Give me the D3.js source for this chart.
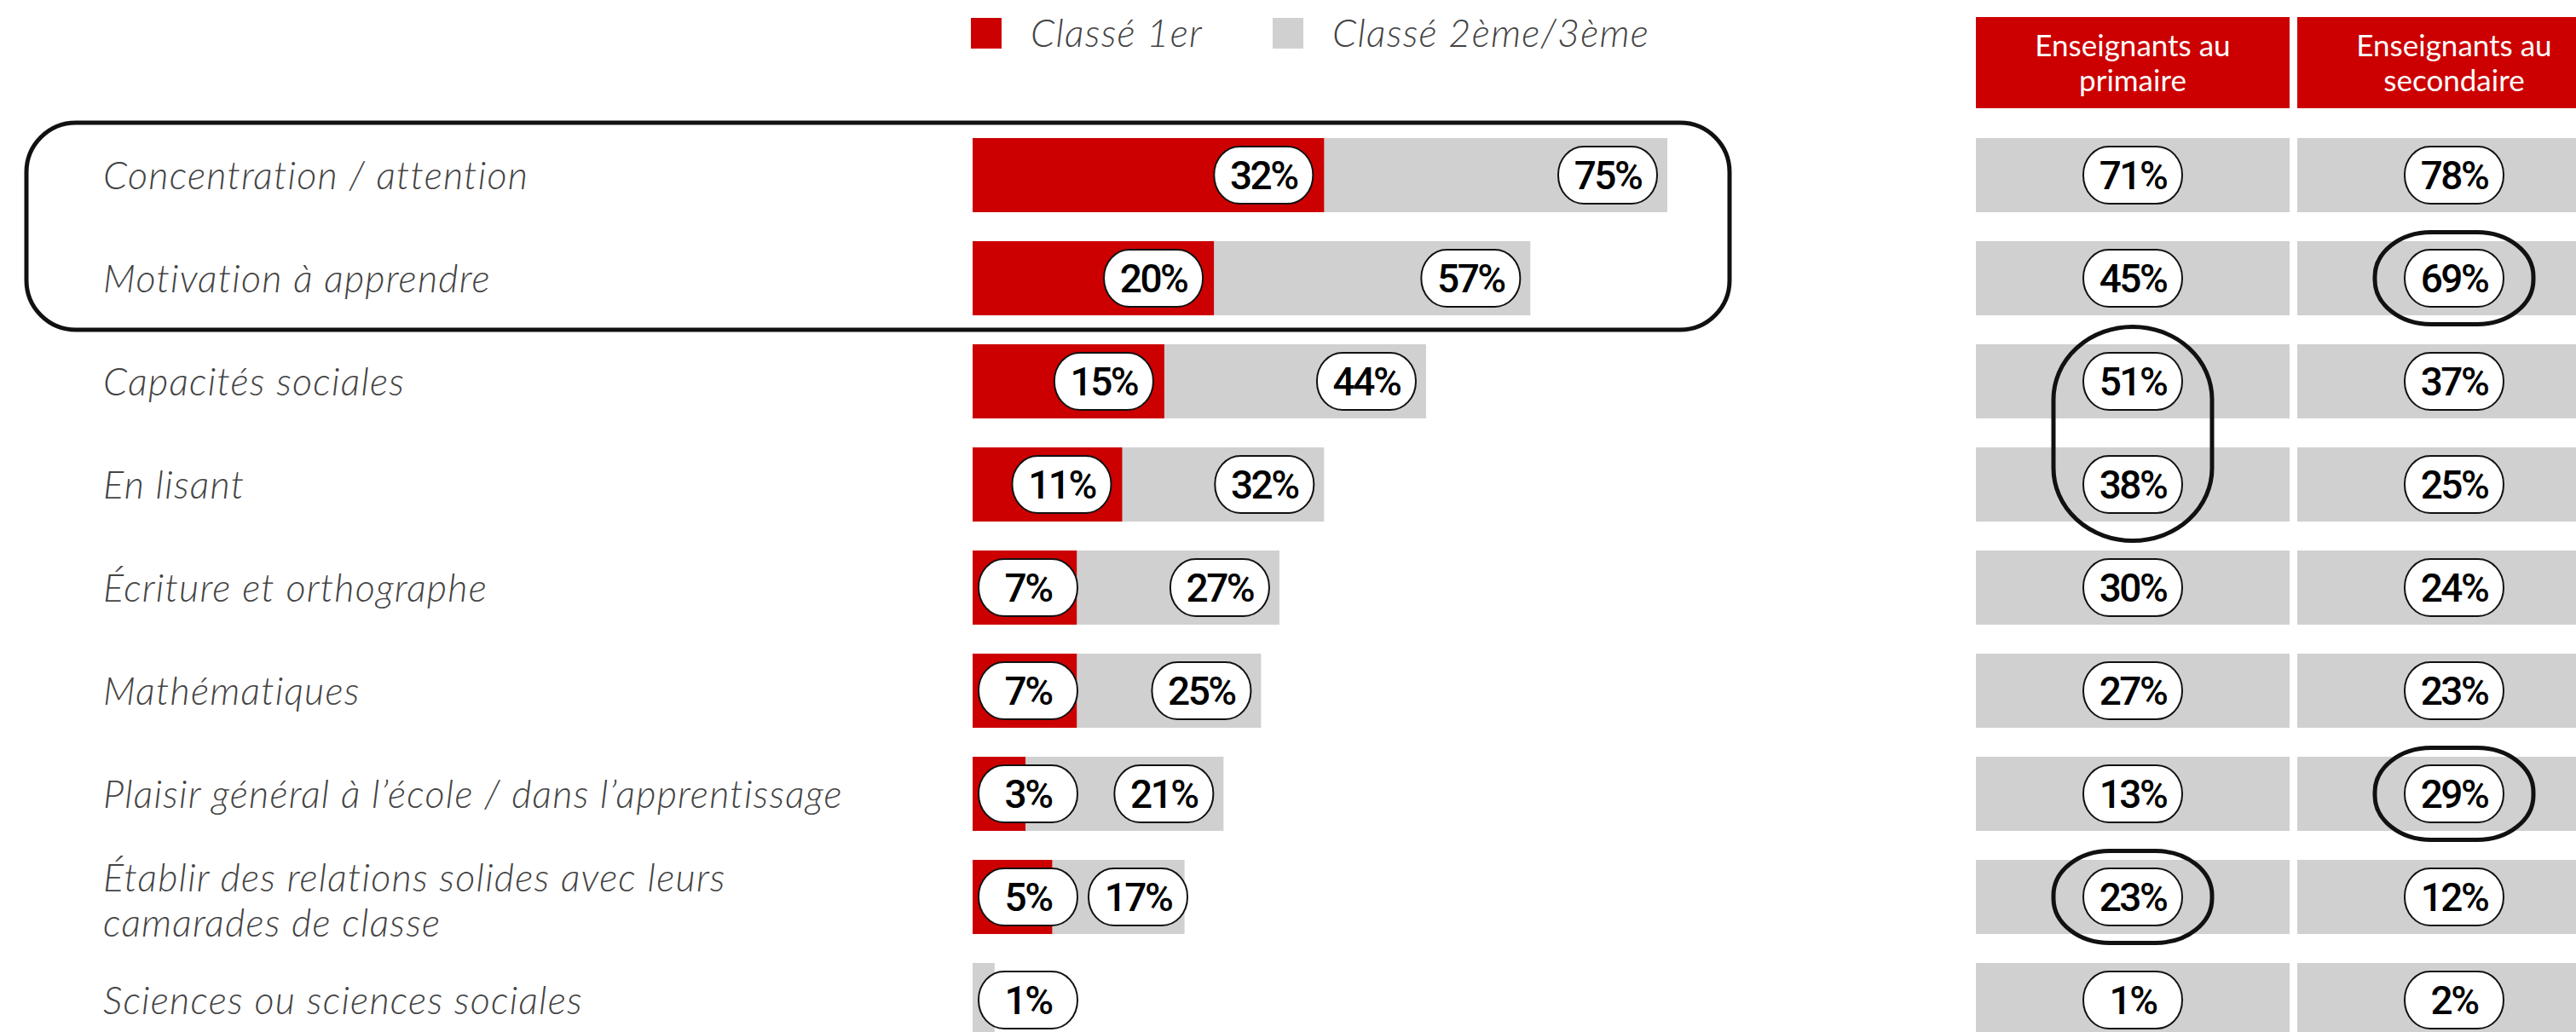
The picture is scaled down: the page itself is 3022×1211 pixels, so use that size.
<!DOCTYPE html>
<html><head><meta charset="utf-8">
<script src="https://cdn.jsdelivr.net/npm/d3@7"></script>
<style>
html,body{margin:0;padding:0;background:#fff;}
svg{display:block;}
</style></head>
<body>
<svg id="chart" width="3022" height="1211"></svg>
<script>
// ---- data ----
const categories = [
  "Concentration / attention",
  "Motivation à apprendre",
  "Capacités sociales",
  "En lisant",
  "Écriture et orthographe",
  "Mathématiques",
  "Plaisir général à l’école / dans l’apprentissage",
  "Établir des relations solides avec leurs\ncamarades de classe",
  "Sciences ou sciences sociales"
];
const rankedFirst = [32, 20, 15, 11, 7, 7, 3, 5, 0];
const rankedTop3 = [75, 57, 44, 32, 27, 25, 21, 17, 1];
const primaryTeachers = [71, 45, 51, 38, 30, 27, 13, 23, 1];
const secondaryTeachers = [78, 69, 37, 25, 24, 23, 29, 12, 2];
const legendLabels = ["Classé 1er", "Classé 2ème/3ème"];
const tableHeaders = [["Enseignants au", "primaire"], ["Enseignants au", "secondaire"]];
const tableKeys = ["primaire", "secondaire"];
// highlighted cells: [column, first row, last row]
const tableHighlights = [["secondaire", 1, 1], ["primaire", 2, 3], ["secondaire", 6, 6], ["primaire", 7, 7]];
const groupHighlight = [0, 1];

// ---- style ----
const RED = "#cc0000", GRAY = "#d0d0d0", TXT = "#444";
const PILL_W = 116, PILL_H = 67;

const svg = d3.select("#chart");

const y = d3.scaleBand().domain(categories).range([162, 1217])
  .paddingInner(34 / 121).paddingOuter(0).align(0);
const barLeft = 1141;
const x = d3.scalePow().exponent(0.8).domain([0, 75]).range([barLeft, barLeft + 815]);
const col = d3.scaleBand().domain(tableKeys).range([2318, 3063]).paddingInner(9 / 377).paddingOuter(0);

const rows = categories.map((c, i) => ({
  c, i, first: rankedFirst[i], top3: rankedTop3[i],
  primaire: primaryTeachers[i], secondaire: secondaryTeachers[i]
}));

function italicText(sel) {
  return sel.attr("font-family", "Lato").attr("font-style", "italic").attr("font-weight", 300)
    .attr("font-size", 45).attr("letter-spacing", 1.2).attr("fill", TXT);
}

// legend
const legend = svg.append("g");
const legX = [1139, 1493];
legendLabels.forEach((l, i) => {
  legend.append("rect").attr("x", legX[i]).attr("y", 21).attr("width", 36).attr("height", 36)
    .attr("fill", i === 0 ? RED : GRAY);
  italicText(legend.append("text").attr("x", legX[i] + 70).attr("y", 55).text(l));
});

// category labels
const lab = svg.append("g");
rows.forEach(r => {
  const lines = r.c.split("\n");
  const cy = y(r.c) + y.bandwidth() / 2;
  const t = italicText(lab.append("text"));
  lines.forEach((ln, k) => {
    t.append("tspan").attr("x", 121)
      .attr("y", cy + 16.5 + (k - (lines.length - 1) / 2) * 53 + (lines.length > 1 ? 3 : 0))
      .text(ln);
  });
});

// bars
const bars = svg.append("g");
bars.selectAll("rect.top3").data(rows).join("rect")
  .attr("x", x(0)).attr("y", d => y(d.c)).attr("height", y.bandwidth())
  .attr("width", d => x(d.top3) - x(0)).attr("fill", GRAY);
bars.selectAll("rect.first").data(rows.filter(d => d.first > 0)).join("rect")
  .attr("x", x(0)).attr("y", d => y(d.c)).attr("height", y.bandwidth())
  .attr("width", d => x(d.first) - x(0)).attr("fill", RED);

function pill(g, cx, cy, label) {
  g.append("rect").attr("x", cx - PILL_W / 2).attr("y", cy - PILL_H / 2)
    .attr("width", PILL_W).attr("height", PILL_H).attr("rx", 30).attr("ry", 33)
    .attr("fill", "#fff").attr("stroke", "#111").attr("stroke-width", 2);
  g.append("text").attr("x", cx).attr("y", cy + 16).attr("text-anchor", "middle")
    .attr("font-family", "Roboto").attr("font-weight", 500).attr("font-size", 46)
    .attr("letter-spacing", -2.5).attr("fill", "#000").text(label + "%");
}

const pills = svg.append("g");
rows.forEach(r => {
  const cy = y(r.c) + y.bandwidth() / 2;
  let prevRight = x(0);
  if (r.first > 0) {
    const right = Math.max(x(r.first) - 13, x(0) + 7 + PILL_W);
    pill(pills, right - PILL_W / 2, cy, r.first);
    prevRight = right + 6;
  }
  const right2 = Math.max(x(r.top3) - 12, prevRight + 7 + PILL_W);
  pill(pills, right2 - PILL_W / 2, cy, r.top3);
});

// group highlight box
const gy0 = y(categories[groupHighlight[0]]) - 18;
const gy1 = y(categories[groupHighlight[1]]) + y.bandwidth() + 17;
svg.append("rect").attr("x", 31).attr("y", gy0).attr("width", 2029 - 31).attr("height", gy1 - gy0)
  .attr("rx", 58).attr("ry", 58).attr("fill", "none").attr("stroke", "#111").attr("stroke-width", 5);

// table
const tbl = svg.append("g");
tableKeys.forEach((k, j) => {
  tbl.append("rect").attr("x", col(k)).attr("y", 20).attr("width", col.bandwidth()).attr("height", 107)
    .attr("fill", RED);
  tableHeaders[j].forEach((ln, li) => {
    tbl.append("text").attr("x", col(k) + col.bandwidth() / 2).attr("y", 66 + li * 41)
      .attr("text-anchor", "middle").attr("font-family", "Lato").attr("font-size", 35)
      .attr("fill", "#fff").text(ln);
  });
  tbl.selectAll("rect.c" + j).data(rows).join("rect")
    .attr("x", col(k)).attr("y", d => y(d.c)).attr("width", col.bandwidth()).attr("height", y.bandwidth())
    .attr("fill", GRAY);
  rows.forEach(r => pill(tbl, col(k) + col.bandwidth() / 2, y(r.c) + y.bandwidth() / 2, r[k]));
});

// table highlights
tableHighlights.forEach(([k, a, b]) => {
  const cx = col(k) + col.bandwidth() / 2;
  const top = y(categories[a]) + y.bandwidth() / 2 - 54;
  const bot = y(categories[b]) + y.bandwidth() / 2 + 54;
  const tall = b > a;
  svg.append("rect").attr("x", cx - 93).attr("y", tall ? top - 10 : top).attr("width", 186)
    .attr("height", tall ? bot - top + 22 : bot - top)
    .attr("rx", tall ? 93 : 66).attr("ry", tall ? 85 : 52)
    .attr("fill", "none").attr("stroke", "#111").attr("stroke-width", 5);
});
</script>
</body></html>
